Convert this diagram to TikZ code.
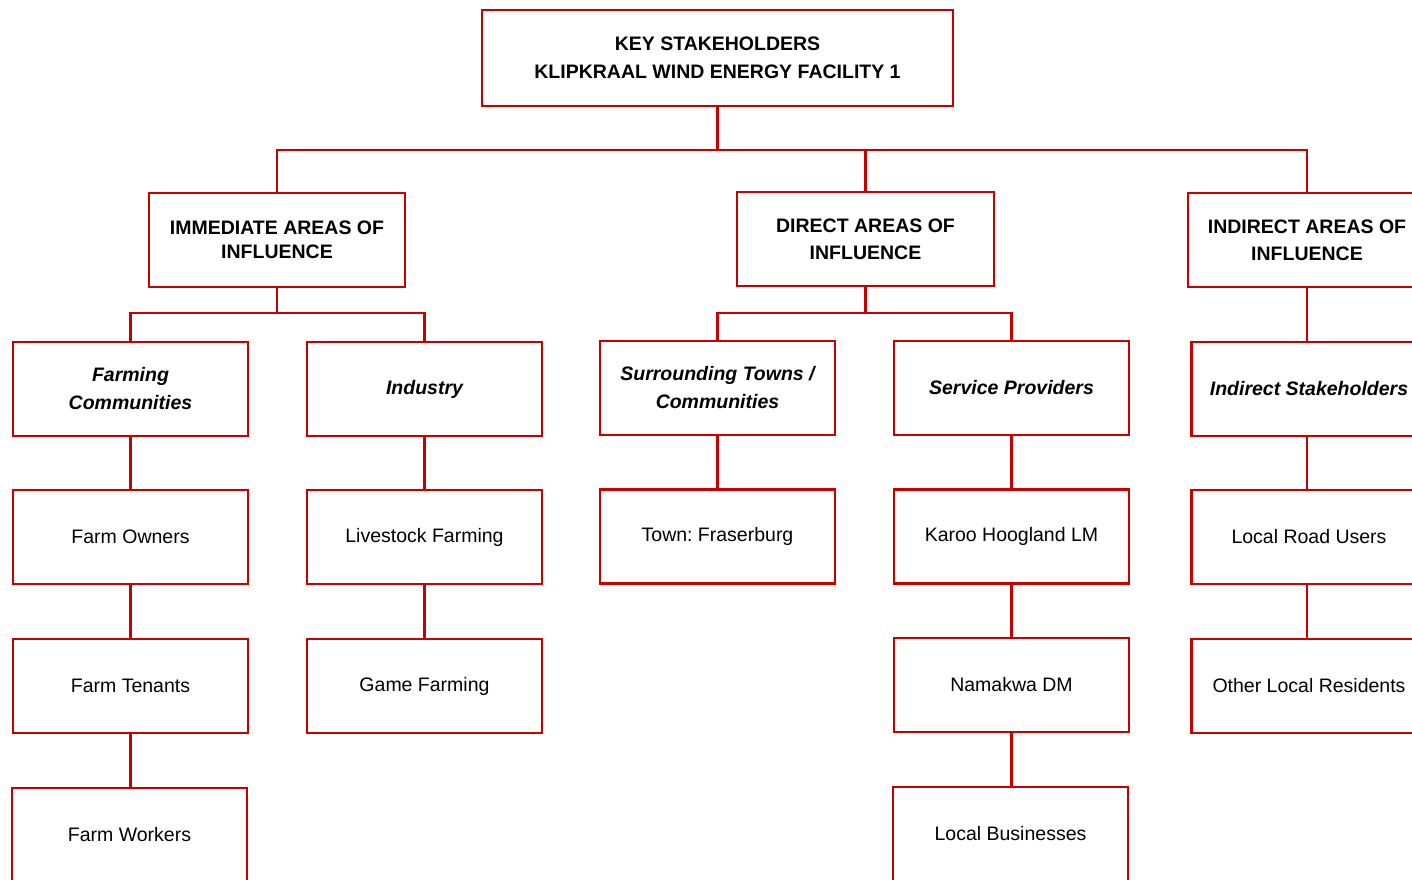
\documentclass[tikz,border=0pt]{standalone}
\usepackage{fontspec}
\setmainfont{Liberation Sans}
\definecolor{boxred}{RGB}{200,0,0}
\begin{document}
\frenchspacing
\begin{tikzpicture}[x=1pt,y=-1pt,
  box/.style={draw=boxred, line width=2.3pt, fill=white, minimum width=235pt, minimum height=94pt,
    align=center, inner sep=0pt, font=\fontsize{19.5}{28}\selectfont},
  headbox/.style={box, font=\fontsize{19.5}{28}\selectfont\bfseries},
  groupbox/.style={box, font=\fontsize{19.5}{28}\selectfont\bfseries\itshape},
  link/.style={draw=boxred, line width=2.3pt}]
\useasboundingbox (0,0) rectangle (1412,879);
\fill[white] (0,0) rectangle (1412,879);
\clip (0,0) rectangle (1412,879);

% level 1
\node[headbox, minimum width=471pt, minimum height=96pt] (top) at (717.5,58) {KEY STAKEHOLDERS\\KLIPKRAAL WIND ENERGY FACILITY 1};
% level 2
\node[headbox, minimum width=256pt, font=\fontsize{19.5}{24}\selectfont\bfseries] (imm) at (277,240) {IMMEDIATE AREAS OF\\INFLUENCE};
\node[headbox, minimum width=257pt, font=\fontsize{19.5}{27}\selectfont\bfseries] (dir) at (865.5,239) {DIRECT AREAS OF\\INFLUENCE};
\node[headbox, minimum width=238pt, font=\fontsize{19.5}{27}\selectfont\bfseries] (ind) at (1307,240) {INDIRECT AREAS OF\\INFLUENCE};
% level 3
\node[groupbox] (farm) at (130.5,389) {Farming\\Communities};
\node[groupbox] (indu) at (424.5,389) {Industry};
\node[groupbox] (town) at (717.5,388) {Surrounding Towns /\\Communities};
\node[groupbox] (serv) at (1011.5,388) {Service Providers};
\node[groupbox] (inds) at (1309,389) {Indirect Stakeholders};
% level 4
\node[box] (owners) at (130.5,537) {Farm Owners};
\node[box] (live) at (424.5,537) {Livestock Farming};
\node[box] (fras) at (717.5,536.5) {Town: Fraserburg};
\node[box] (karoo) at (1011.5,536.5) {Karoo Hoogland LM};
\node[box] (road) at (1309,537) {Local Road Users};
% level 5
\node[box] (tenants) at (130.5,686) {Farm Tenants};
\node[box] (game) at (424.5,686) {Game Farming};
\node[box] (nama) at (1011.5,685) {Namakwa DM};
\node[box] (resid) at (1309,686) {Other Local Residents};
% level 6
\node[box] (workers) at (129.5,835) {Farm Workers};
\node[box] (busi) at (1010.5,834) {Local Businesses};

% connectors
\draw[link] (top.south) -- (top.south |- 0,150) -| (imm.north);
\draw[link] (top.south |- 0,150) -| (dir.north);
\draw[link] (top.south |- 0,150) -| (ind.north);
\draw[link] (imm.south) -- (imm.south |- 0,313) -| (farm.north);
\draw[link] (imm.south |- 0,313) -| (indu.north);
\draw[link] (dir.south) -- (dir.south |- 0,313) -| (town.north);
\draw[link] (dir.south |- 0,313) -| (serv.north);
\draw[link] (ind.south) -- (ind.south |- inds.north);
\draw[link] (farm) -- (owners);
\draw[link] (owners) -- (tenants);
\draw[link] (tenants.south) -- (tenants.south |- workers.north);
\draw[link] (indu) -- (live);
\draw[link] (live) -- (game);
\draw[link] (town) -- (fras);
\draw[link] (serv) -- (karoo);
\draw[link] (karoo) -- (nama);
\draw[link] (nama.south) -- (nama.south |- busi.north);
\draw[link] (ind.south |- inds.south) -- (ind.south |- road.north);
\draw[link] (ind.south |- road.south) -- (ind.south |- resid.north);
\end{tikzpicture}
\end{document}
